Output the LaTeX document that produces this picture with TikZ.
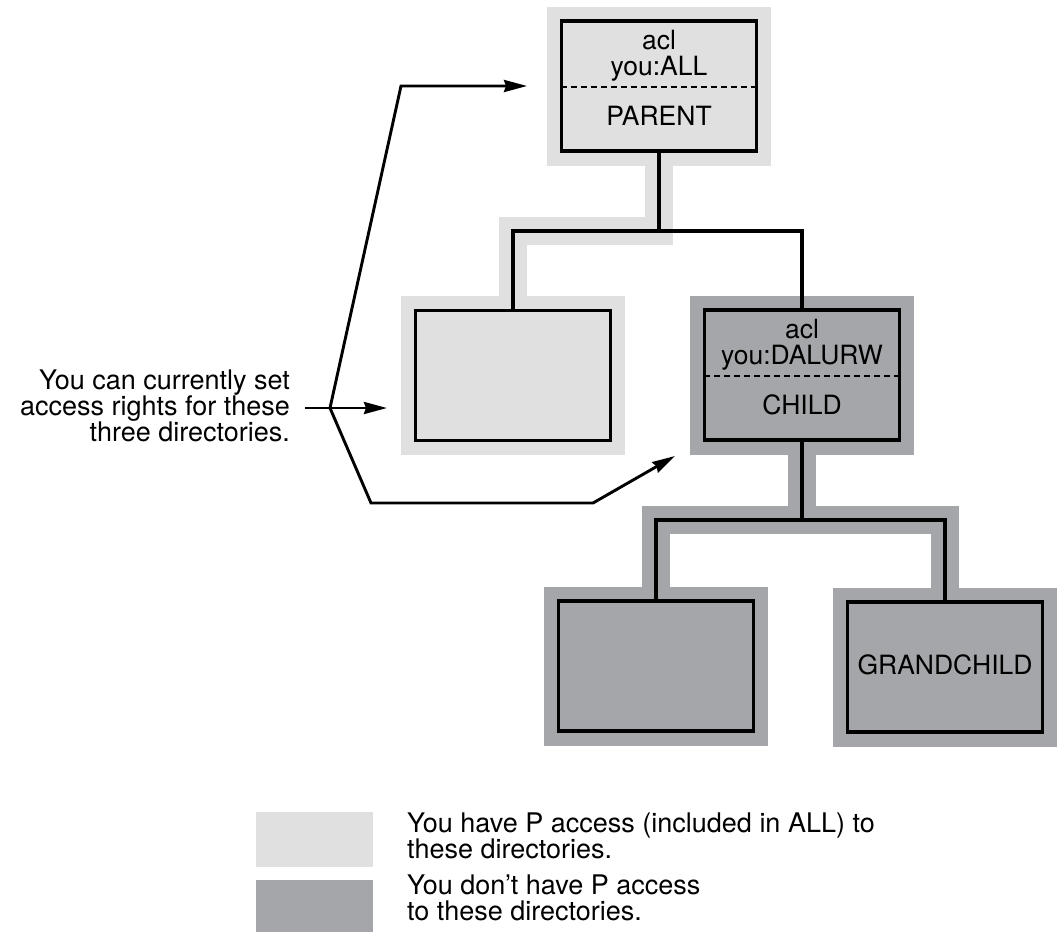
\documentclass[tikz,border=0pt]{standalone}
\usepackage{fontspec}
\setmainfont{TeX Gyre Heros}
\usetikzlibrary{arrows.meta,backgrounds,calc}
\definecolor{permlight}{RGB}{224,224,224}
\definecolor{permdark}{RGB}{164,166,169}
\begin{document}
\begin{tikzpicture}[x=1pt,y=-1pt,
  dirbox/.style={rectangle, draw=black, line width=3.1pt, minimum width=195pt,
    minimum height=130pt, inner sep=0pt, fill=#1,
    preaction={draw=#1, line width=29pt}},
  boxtext/.style={font=\fontsize{26.5}{30}\selectfont, inner sep=0pt, anchor=base},
  notetext/.style={font=\fontsize{27}{30}\selectfont, inner sep=0pt},
  link/.style={draw=black, line width=3.1pt, line join=miter},
  band/.style={draw=#1, line width=28pt, line join=miter, line cap=butt},
  pointer/.style={draw=black, line width=2.9pt, line join=miter,
    -{Stealth[length=23pt,width=12pt,inset=2pt]}},
  aclrule/.style={draw=black, line width=2.5pt, dash pattern=on 6pt off 4pt},
  keybox/.style={fill=#1, minimum width=117pt, inner sep=0pt, anchor=north west}]

\useasboundingbox (0,0) rectangle (1059,932);

% directory boxes
\node[dirbox=permlight] (parent) at (659,86) {};
\node[dirbox=permlight] (left) at (513,375.5) {};
\node[dirbox=permdark] (child) at (802,375) {};
\node[dirbox=permdark] (gcA) at (656,666) {};
\node[dirbox=permdark] (gcB) at (945,667) {};

% box labels
\node[boxtext] (paclA) at ($(parent.center)+(0,-37)$) {acl};
\node[boxtext] (paclB) at ($(parent.center)+(0,-11)$) {you:ALL};
\node[boxtext] (pname) at ($(parent.center)+(0,39)$) {PARENT};
\draw[aclrule] ($(parent.west)+(1.5,1)$) -- ($(parent.east)+(-1.5,1)$);

\node[boxtext] (caclA) at ($(child.center)+(0,-37)$) {acl};
\node[boxtext] (caclB) at ($(child.center)+(0,-11)$) {you:DALURW};
\node[boxtext] (cname) at ($(child.center)+(0,39)$) {CHILD};
\draw[aclrule] ($(child.west)+(1.5,1)$) -- ($(child.east)+(-1.5,1)$);

\node[boxtext] (gname) at ($(gcB.center)+(0,7)$) {GRANDCHILD};

% tree connectors
\coordinate (ya) at (0,231);
\coordinate (yb) at (0,520);
\coordinate (j1) at (parent.south |- ya);
\coordinate (j2) at (child.south |- yb);
\draw[link] (parent.south) -- (j1);
\draw[link] (left.north) |- (j1) -| (child.north);
\draw[link] (child.south) -- (j2);
\draw[link] (gcA.north) |- (j2) -| (gcB.north);

% shaded access paths behind the connectors
\begin{scope}[on background layer]
  \draw[band=permlight] (parent.south) -- (j1) -| (left.north);
  \draw[band=permdark] (child.south) -- (j2);
  \draw[band=permdark] (gcA.north) |- (j2) -| (gcB.north);
\end{scope}

% note with pointers
\node[notetext, anchor=base east] (n1) at (290,389) {You can currently set};
\node[notetext, anchor=base east] (n2) at (290,415) {access rights for these};
\node[notetext, anchor=base east] (n3) at (290,441) {three directories.};

\coordinate (v) at (330,408);
\coordinate (bendA) at (401,86);
\coordinate (tipA) at (527,86);
\coordinate (midstart) at (305,408);
\coordinate (tipB) at (387,408);
\coordinate (bendC) at (371,503);
\coordinate (bendD) at (593,503);
\coordinate (tipC) at (675,456);
\draw[pointer] (v) -- (bendA) -- (tipA);
\draw[pointer] (midstart) -- (tipB);
\draw[pointer] (v) -- (bendC) -- (bendD) -- (tipC);

% key
\node[keybox=permlight, minimum height=55pt] (keyA) at (256,812) {};
\node[keybox=permdark, minimum height=52pt] (keyB) at (256,880) {};
\node[notetext, anchor=base west] (kA1) at (407,832) {You have P access (included in ALL) to};
\node[notetext, anchor=base west] (kA2) at (407,858) {these directories.};
\node[notetext, anchor=base west] (kB1) at (407,894) {You don’t have P access};
\node[notetext, anchor=base west] (kB2) at (407,920) {to these directories.};
\end{tikzpicture}
\end{document}
